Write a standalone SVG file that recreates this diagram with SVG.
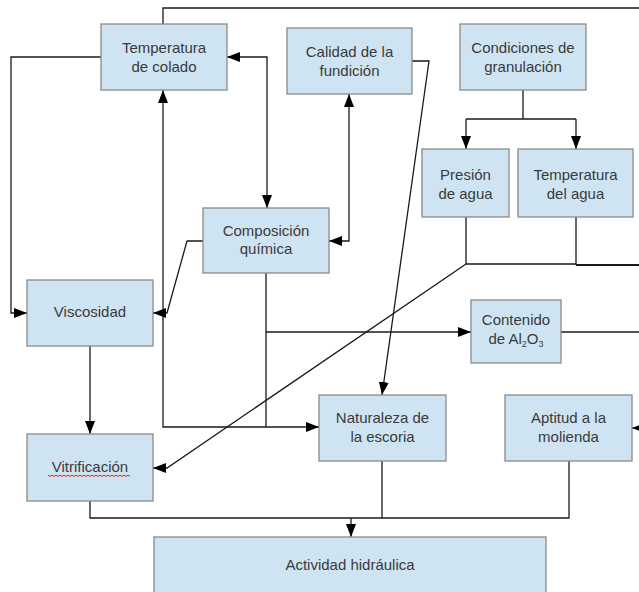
<svg xmlns="http://www.w3.org/2000/svg" width="639" height="592" viewBox="0 0 639 592">
<style>
.box{fill:#cfe4f3;stroke:#8a8a8a;stroke-width:1.3}
.t{font-family:"Liberation Sans",Arial,sans-serif;font-size:15px;fill:#3a3a3a;text-anchor:middle}
.c{fill:none;stroke:#1a1a1a;stroke-width:1.3}
.ca{fill:none;stroke:#1a1a1a;stroke-width:1.3;marker-end:url(#ah)}
.cb{fill:none;stroke:#1a1a1a;stroke-width:1.3;marker-start:url(#ah);marker-end:url(#ah)}
</style>
<defs>
<marker id="ah" viewBox="0 0 13 10" refX="13" refY="5" markerWidth="13" markerHeight="10" markerUnits="userSpaceOnUse" orient="auto-start-reverse">
<path d="M0,0 L13,5 L0,10 z" fill="#000"/>
</marker>
</defs>
<rect width="639" height="592" fill="#fff"/>
<g id="connectors">
<path class="c" d="M163,24 V8 H639"/>
<path class="ca" d="M101,57 H11 V313 H27"/>
<path class="cb" d="M227,57 H267 V208"/>
<path class="cb" d="M349,94 V241 H329"/>
<path class="ca" d="M412,61 H429 L382,395"/>
<path class="cb" d="M163,90 V427 H319"/>
<path class="c" d="M266,273 V427"/>
<path class="ca" d="M266,332 H471"/>
<path class="ca" d="M203,241 H187 L167,313 H153"/>
<path class="ca" d="M90,346 V434"/>
<path class="c" d="M523,90 V119 M466,119 H576"/>
<path class="ca" d="M466,119 V149"/>
<path class="ca" d="M576,119 V149"/>
<path class="c" d="M466,217 V264 H576 M576,217 V265"/>
<path class="c" style="stroke-width:2.2" d="M576,265 H639"/>
<path class="ca" d="M466,264 L167,468 H153"/>
<path class="c" d="M561,332 H639"/>
<path class="ca" d="M645,428 H632"/>
<path class="c" d="M90,501 V518 H569 V461 M382,461 V518"/>
<path class="ca" d="M351,518 V537"/>
</g>
<g id="temperatura-colado"><rect class="box" x="101" y="24" width="126" height="66"/><text class="t" x="164" y="53">Temperatura</text><text class="t" x="164" y="72">de colado</text></g>
<g id="calidad-fundicion"><rect class="box" x="287" y="28" width="125" height="66"/><text class="t" x="349.5" y="57">Calidad de la</text><text class="t" x="349.5" y="76">fundición</text></g>
<g id="condiciones-granulacion"><rect class="box" x="460" y="24" width="126" height="66"/><text class="t" x="523" y="53">Condiciones de</text><text class="t" x="523" y="72">granulación</text></g>
<g id="presion-agua"><rect class="box" x="422" y="149" width="87" height="68"/><text class="t" x="465.5" y="180">Presión</text><text class="t" x="465.5" y="199">de agua</text></g>
<g id="temperatura-agua"><rect class="box" x="518" y="149" width="115" height="68"/><text class="t" x="575.5" y="180">Temperatura</text><text class="t" x="575.5" y="199">del agua</text></g>
<g id="composicion-quimica"><rect class="box" x="203" y="208" width="126" height="65"/><text class="t" x="266" y="236">Composición</text><text class="t" x="266" y="254">química</text></g>
<g id="viscosidad"><rect class="box" x="27" y="280" width="126" height="66"/><text class="t" x="90" y="317">Viscosidad</text></g>
<g id="contenido-al2o3"><rect class="box" x="471" y="300" width="90" height="63"/><text class="t" x="516" y="325">Contenido</text><text class="t" x="516" y="344">de Al<tspan font-size="9" dy="3">2</tspan><tspan dy="-3">O</tspan><tspan font-size="9" dy="3">3</tspan></text></g>
<g id="vitrificacion"><rect class="box" x="27" y="434" width="126" height="67"/><text class="t" x="90" y="472">Vitrificación</text><path d="M48,475 l2,1.5 l2,-1.5 l2,1.5 l2,-1.5 l2,1.5 l2,-1.5 l2,1.5 l2,-1.5 l2,1.5 l2,-1.5 l2,1.5 l2,-1.5 l2,1.5 l2,-1.5 l2,1.5 l2,-1.5 l2,1.5 l2,-1.5 l2,1.5 l2,-1.5 l2,1.5 l2,-1.5 l2,1.5 l2,-1.5 l2,1.5 l2,-1.5 l2,1.5 l2,-1.5 l2,1.5 l2,-1.5 l2,1.5 l2,-1.5 l2,1.5 l2,-1.5 l2,1.5 l2,-1.5 l2,1.5 l2,-1.5 l2,1.5 l2,-1.5 l2,1.5" fill="none" stroke="#e02020" stroke-width="1"/></g>
<g id="naturaleza-escoria"><rect class="box" x="319" y="395" width="127" height="66"/><text class="t" x="382.5" y="423">Naturaleza de</text><text class="t" x="382.5" y="442">la escoria</text></g>
<g id="aptitud-molienda"><rect class="box" x="505" y="395" width="127" height="66"/><text class="t" x="568.5" y="423">Aptitud a la</text><text class="t" x="568.5" y="442">molienda</text></g>
<g id="actividad-hidraulica"><rect class="box" x="154" y="537" width="392" height="70"/><text class="t" x="350" y="570">Actividad hidráulica</text></g>
</svg>
